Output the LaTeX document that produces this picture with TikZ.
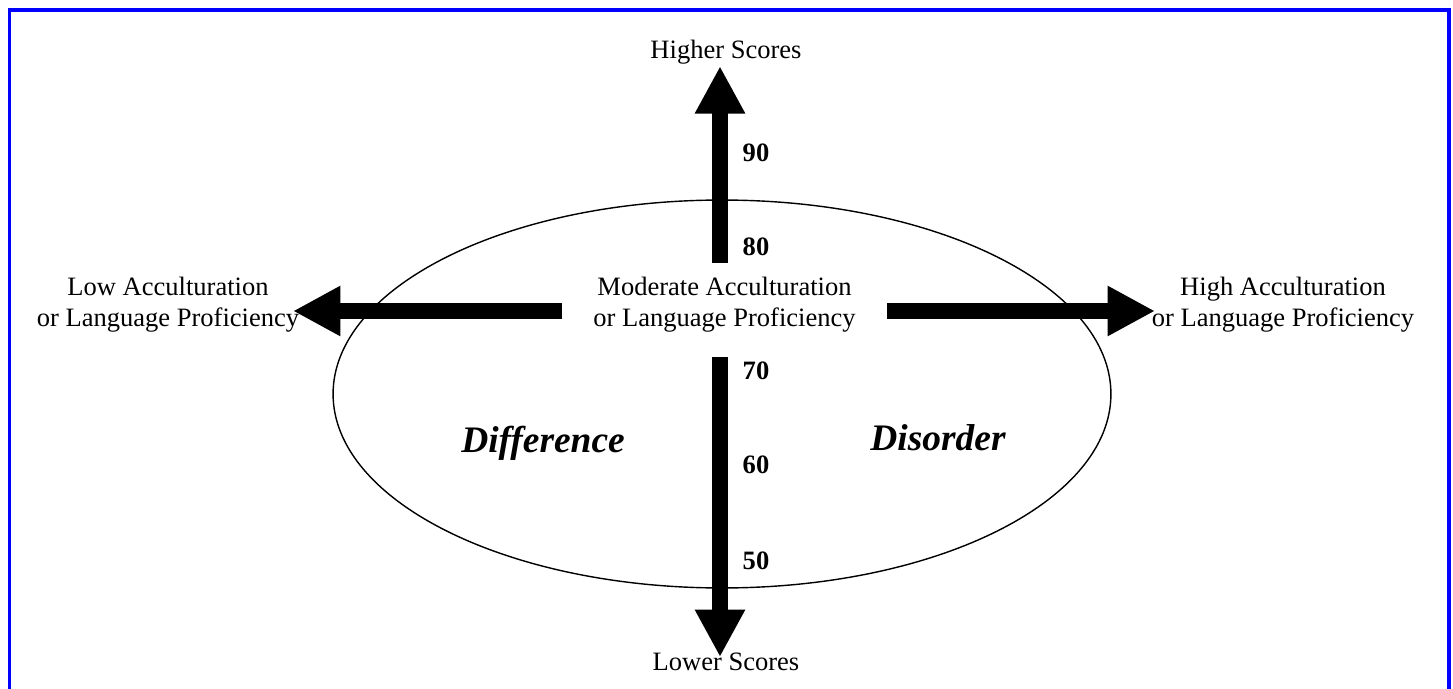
\documentclass[tikz,border=0pt]{standalone}
\usepackage{fontspec}
\setmainfont{Liberation Serif}
\usetikzlibrary{arrows.meta}

\begin{document}
\begin{tikzpicture}[x=0.02cm, y=-0.02cm,
        txt/.style = {align=center, inner sep=0pt, font=\fontsize{15.1}{17.6}\selectfont},
        score/.style = {inner sep=0pt, font=\fontsize{15.1}{17.6}\selectfont\bfseries},
        side/.style = {inner sep=0pt, font=\fontsize{21.3}{25}\selectfont\bfseries\itshape},
        bigarrow/.style = {line width=0.32cm, -{Triangle[length=0.95cm, width=0.94cm]}}]
            \useasboundingbox (0,0) rectangle (1453,689);
            \clip (0,0) rectangle (1453,689);

            % Frame
            \draw [blue, line width=0.08cm] (9.5,10.5) rectangle (1449,720);

            % Ellipse
            \draw [line width=0.8pt] (722,394) ellipse [x radius=7.78cm, y radius=3.88cm];

            \coordinate (vaxis) at (720,394);
            \coordinate (haxis) at (720,311);

            % Texts
            \node [txt] (mod) at (724.5,305) {Moderate Acculturation\\or Language Proficiency};
            \node [txt] (low) at (168,305) {Low Acculturation\\or Language Proficiency};
            \node [txt] (high) at (1283,305) {High Acculturation\\or Language Proficiency};
            \node [txt, anchor=base] (hi) at (726,59) {Higher Scores};
            \node [txt, anchor=base] (lo) at (726,670) {Lower Scores};

            \node [side, anchor=base] (diff) at (543,452) {Difference};
            \node [side, anchor=base] (dis) at (938,450) {Disorder};

            % Scores
            \foreach \v/\y in {90/153, 80/247, 70/371, 60/465, 50/561}
                \node [score] (s\v) at (756,\y) {\v};

            % Arrows
            \draw [bigarrow, shorten <=0.29cm, shorten >=0.02cm] (vaxis |- mod.north) -- (vaxis |- hi.south);
            \draw [bigarrow, shorten <=0.49cm, shorten >=-0.1cm] (vaxis |- mod.south) -- (vaxis |- lo.north);
            \draw [bigarrow, shorten <=0.62cm, shorten >=-0.13cm] (mod.west |- haxis) -- (low.east |- haxis);
            \draw [bigarrow, shorten <=0.62cm, shorten >=-0.07cm] (mod.east |- haxis) -- (high.west |- haxis);

        \end{tikzpicture}
\end{document}
